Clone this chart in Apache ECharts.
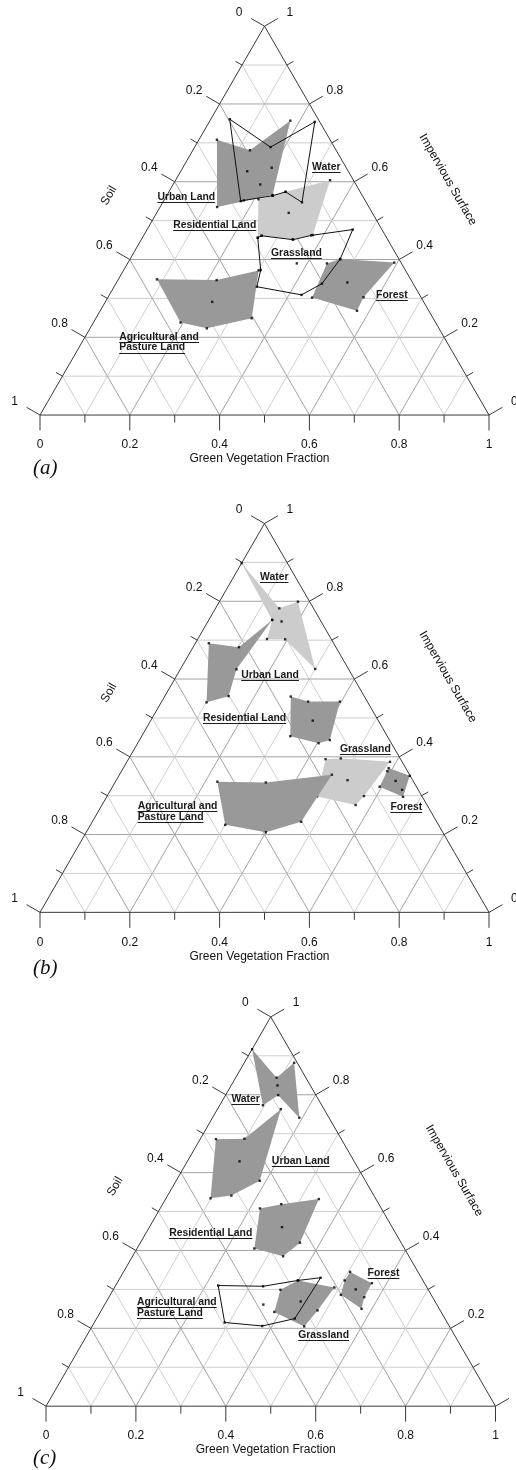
<!DOCTYPE html>
<html>
<head>
<meta charset="utf-8">
<script src="https://cdn.jsdelivr.net/npm/echarts@6/dist/echarts.min.js"></script>
<style>
  html, body { margin: 0; padding: 0; background: #ffffff; }
  #chart { width: 516px; height: 1470px; }
</style>
</head>
<body>
<div id="chart"></div>
<script>
// Ternary compositions are stored as [green vegetation, impervious surface];
// soil is the remainder (1 - gv - imp).

// ---- (a) ----
const aWater = [[0.042,0.761],[0.169,0.689],[0.235,0.754],[0.310,0.547],[0.260,0.574],[0.236,0.564],[0.178,0.552],[0.172,0.550]];
const aWaterInner = [[0.198,0.636]];
const aUrban = [[0.040,0.708],[0.127,0.681],[0.179,0.757],[0.235,0.566],[0.127,0.535]];
const aUrbanInner = [[0.148,0.627],[0.194,0.593]];
const aResidential = [[0.209,0.555],[0.236,0.564],[0.260,0.574],[0.344,0.604],[0.376,0.463],[0.337,0.452],[0.263,0.461],[0.257,0.456]];
const aResidentialInner = [[0.294,0.520]];
const aGrassland = [[0.257,0.456],[0.263,0.461],[0.338,0.451],[0.373,0.462],[0.458,0.477],[0.468,0.401],[0.459,0.338],[0.428,0.309],[0.318,0.330],[0.305,0.373]];
const aGrasslandInner = [[0.377,0.390]];
const aForest = [[0.444,0.390],[0.468,0.401],[0.593,0.392],[0.569,0.303],[0.572,0.268],[0.455,0.302]];
const aForestInner = [[0.514,0.341]];
const aAgri = [[0.086,0.349],[0.220,0.347],[0.301,0.372],[0.347,0.249],[0.260,0.223],[0.194,0.238]];
const aAgriInner = [[0.238,0.291]];

// ---- (b) ----
const bWater = [[0.000,0.898],[0.142,0.782],[0.175,0.799],[0.300,0.626],[0.195,0.702],[0.154,0.703],[0.141,0.752]];
const bWaterInner = [[0.164,0.748]];
const bUrban = [[0.030,0.692],[0.102,0.682],[0.141,0.752],[0.125,0.625],[0.142,0.556],[0.101,0.540]];
const bUrbanInner = [];
const bResidential = [[0.281,0.555],[0.326,0.542],[0.397,0.542],[0.424,0.443],[0.403,0.435],[0.331,0.453]];
const bResidentialInner = [[0.361,0.493]];
const bGrassland = [[0.439,0.394],[0.472,0.396],[0.586,0.387],[0.572,0.299],[0.565,0.276],[0.468,0.298]];
const bGrasslandInner = [[0.515,0.340]];
const bForest = [[0.591,0.371],[0.648,0.351],[0.660,0.297],[0.595,0.323]];
const bForestInner = [[0.592,0.363],[0.649,0.315],[0.623,0.338]];
const bAgri = [[0.227,0.336],[0.336,0.334],[0.473,0.354],[0.465,0.233],[0.400,0.206],[0.300,0.225]];
const bAgriInner = [];

// ---- (c) ----
const cWater = [[0.000,0.917],[0.091,0.844],[0.111,0.882],[0.193,0.741],[0.117,0.799],[0.096,0.773]];
const cWaterInner = [[0.103,0.824]];
const cUrban = [[0.035,0.686],[0.098,0.687],[0.141,0.763],[0.186,0.579],[0.142,0.541],[0.099,0.534]];
const cUrbanInner = [[0.116,0.629]];
const cResidential = [[0.222,0.508],[0.264,0.519],[0.341,0.532],[0.355,0.420],[0.335,0.385],[0.261,0.405]];
const cResidentialInner = [[0.295,0.460]];
const cGrassland = [[0.372,0.299],[0.399,0.323],[0.489,0.305],[0.481,0.246],[0.472,0.205],[0.387,0.242]];
const cGrasslandInner = [[0.432,0.269]];
const cForest = [[0.504,0.345],[0.567,0.316],[0.568,0.280],[0.577,0.250],[0.513,0.286],[0.503,0.323]];
const cForestInner = [[0.539,0.300]];
const cAgri = [[0.228,0.310],[0.329,0.308],[0.399,0.323],[0.446,0.330],[0.441,0.225],[0.378,0.206],[0.290,0.215]];
const cAgriInner = [[0.353,0.261]];

// Axis ticks (every 0.1) and labelled values (every 0.2)
const fractionTicks = [0,0.1,0.2,0.3,0.4,0.5,0.6,0.7,0.8,0.9,1];
const tickLabels = ['0','0.2','0.4','0.6','0.8','1'];

const SQ3 = Math.sqrt(3) / 2;
const toXY = p => [p[0] + p[1] / 2, p[1] * SQ3];

const DARK = '#999999';
const LIGHT = '#cccccc';
const INK = '#111111';
const SANS = '"Liberation Sans", Arial, Helvetica, sans-serif';
const TICK_FONT = '12px ' + SANS;
const LABEL_FONT = 'bold 10.4px ' + SANS;
const LETTER_FONT = 'italic 21px "Liberation Serif", "Times New Roman", serif';

const measureCtx = document.createElement('canvas').getContext('2d');
function textWidth(t, font) { measureCtx.font = font; return measureCtx.measureText(t).width; }

const panels = [
  {
    letter: '(a)', left: 40, top: 26.2, width: 449, letterY: 468,
    classes: [
      { name: 'Residential Land', pts: aResidential, inner: aResidentialInner, kind: 'light', label: [0.052, 0.489] },
      { name: 'Urban Land', pts: aUrban, inner: aUrbanInner, kind: 'dark', label: [-0.019, 0.561] },
      { name: 'Forest', pts: aForest, inner: aForestInner, kind: 'dark', label: [0.594, 0.309] },
      { name: 'Agricultural and\nPasture Land', pts: aAgri, inner: aAgriInner, kind: 'dark', label: [0.076, 0.201] },
      { name: 'Water', pts: aWater, inner: aWaterInner, kind: 'outline', label: [0.287, 0.638] },
      { name: 'Grassland', pts: aGrassland, inner: aGrasslandInner, kind: 'outline', label: [0.306, 0.417] }
    ]
  },
  {
    letter: '(b)', left: 40, top: 523.5, width: 449, letterY: 968,
    classes: [
      { name: 'Water', pts: bWater, inner: bWaterInner, kind: 'light', label: [0.059, 0.862] },
      { name: 'Grassland', pts: bGrassland, inner: bGrasslandInner, kind: 'light', label: [0.458, 0.420] },
      { name: 'Urban Land', pts: bUrban, inner: bUrbanInner, kind: 'dark', label: [0.143, 0.610] },
      { name: 'Residential Land', pts: bResidential, inner: bResidentialInner, kind: 'dark', label: [0.113, 0.500] },
      { name: 'Forest', pts: bForest, inner: bForestInner, kind: 'dark', label: [0.645, 0.271] },
      { name: 'Agricultural and\nPasture Land', pts: bAgri, inner: bAgriInner, kind: 'dark', label: [0.081, 0.273] }
    ]
  },
  {
    letter: '(c)', left: 46, top: 1016.9, width: 449.5, letterY: 1458,
    classes: [
      { name: 'Water', pts: cWater, inner: cWaterInner, kind: 'dark', label: [0.018, 0.789] },
      { name: 'Urban Land', pts: cUrban, inner: cUrbanInner, kind: 'dark', label: [0.188, 0.629] },
      { name: 'Residential Land', pts: cResidential, inner: cResidentialInner, kind: 'dark', label: [0.052, 0.444] },
      { name: 'Grassland', pts: cGrassland, inner: cGrasslandInner, kind: 'dark', label: [0.470, 0.182] },
      { name: 'Forest', pts: cForest, inner: cForestInner, kind: 'dark', label: [0.545, 0.341] },
      { name: 'Agricultural and\nPasture Land', pts: cAgri, inner: cAgriInner, kind: 'outline', label: [0.069, 0.267] }
    ]
  }
];

// Triangle frame, 0.1 grid, ticks, tick labels and axis titles
function frameSeries(i, pn) {
  return {
    type: 'custom', xAxisIndex: i, yAxisIndex: i, z: 1, silent: true, clip: false,
    data: [[0, 0]],
    renderItem(params, api) {
      const P = (gv, imp) => api.coord(toXY([gv, imp]));
      const kids = [];
      const seg = (a, b, stroke) => kids.push({
        type: 'line', shape: { x1: a[0], y1: a[1], x2: b[0], y2: b[1] },
        style: { stroke, lineWidth: 1 }
      });
      const text = (x, y, str, extra) => kids.push(Object.assign({
        type: 'text', x, y,
        style: { text: str, font: TICK_FONT, fill: INK, align: 'center', verticalAlign: 'middle' }
      }, extra || {}));

      // grid lines
      fractionTicks.forEach((t, k) => {
        if (k === 0 || k === fractionTicks.length - 1) return;
        const col = k % 2 === 0 ? '#a3a3a3' : '#cfcfcf';
        seg(P(0, t), P(1 - t, t), col);        // constant impervious
        seg(P(t, 0), P(t, 1 - t), col);        // constant vegetation
        seg(P(1 - t, 0), P(0, 1 - t), col);    // constant soil
      });

      // frame
      const A = P(0, 0), B = P(1, 0), C = P(0, 1);
      kids.push({
        type: 'polygon', shape: { points: [A, B, C] },
        style: { fill: 'none', stroke: '#3a3a3a', lineWidth: 1 }
      });

      const cx = 0.866, cy = 0.5;
      fractionTicks.forEach((t, k) => {
        const major = k % 2 === 0;
        const len = major ? 15.5 : 7.5;
        const lab = major ? tickLabels[k / 2] : null;
        // bottom: green vegetation
        const pb = P(t, 0);
        seg(pb, [pb[0], pb[1] + len], '#3a3a3a');
        if (lab) text(pb[0], pb[1] + 30, lab);
        // left: soil (0 at apex)
        const pl = P(0, 1 - t);
        const el = [pl[0] - cx * len, pl[1] - cy * len];
        seg(pl, el, '#3a3a3a');
        if (lab) text(el[0] - 12, el[1] - 6, lab);
        // right: impervious surface (0 at bottom-right)
        const pr = P(1 - t, t);
        const er = [pr[0] + cx * len, pr[1] - cy * len];
        seg(pr, er, '#3a3a3a');
        if (lab) text(er[0] + 12, er[1] - 6, lab);
      });

      // axis titles
      const pBottom = P(0.5, 0);
      text(pBottom[0] - 5, pBottom[1] + 44, 'Green Vegetation Fraction');
      const mL = P(0, 0.5);
      text(mL[0] - cx * 50, mL[1] - cy * 50, 'Soil', { rotation: Math.PI / 3 });
      const mR = P(0.5, 0.5);
      text(mR[0] + cx * 82, mR[1] - cy * 82, 'Impervious Surface', { rotation: -Math.PI / 3 });

      // panel letter
      kids.push({
        type: 'text', x: 33, y: pn.letterY,
        style: { text: pn.letter, font: LETTER_FONT, fill: INK, align: 'left', verticalAlign: 'middle' }
      });
      return { type: 'group', children: kids };
    }
  };
}

// Underlined class names
function labelSeries(i, pn) {
  return {
    type: 'custom', xAxisIndex: i, yAxisIndex: i, z: 20, silent: true, clip: false,
    data: [[0.5, 0.3]],
    renderItem(params, api) {
      const kids = [];
      pn.classes.forEach(c => {
        const at = api.coord(toXY(c.label));
        c.name.split('\n').forEach((line, k) => {
          const y = at[1] + k * 10.7;
          const w = textWidth(line, LABEL_FONT);
          kids.push({
            type: 'text', x: at[0], y,
            style: { text: line, font: LABEL_FONT, fill: '#1a1a1a', align: 'left', verticalAlign: 'middle' }
          });
          const uy = Math.round(y + 5) + 0.5;
          kids.push({
            type: 'line', shape: { x1: at[0], y1: uy, x2: at[0] + w, y2: uy },
            style: { stroke: '#1a1a1a', lineWidth: 1 }
          });
        });
      });
      return { type: 'group', children: kids };
    }
  };
}

const series = [];
panels.forEach((pn, i) => {
  series.push(frameSeries(i, pn));
  pn.classes.forEach(c => {
    const zBase = c.kind === 'light' ? 2 : (c.kind === 'dark' ? 4 : 6);
    series.push({
      type: 'custom', name: c.name, xAxisIndex: i, yAxisIndex: i, z: zBase, silent: true, clip: false,
      data: c.pts.map(toXY),
      renderItem(params, api) {
        if (params.dataIndex !== 0) return null;
        const points = c.pts.map(p => api.coord(toXY(p)));
        return {
          type: 'polygon', shape: { points },
          style: c.kind === 'outline'
            ? { fill: 'none', stroke: INK, lineWidth: 1 }
            : { fill: c.kind === 'dark' ? DARK : LIGHT }
        };
      }
    });
    series.push({
      type: 'scatter', xAxisIndex: i, yAxisIndex: i, z: zBase + 1, silent: true,
      symbol: 'rect', symbolSize: 2.4, itemStyle: { color: '#000000' },
      data: c.pts.concat(c.inner).map(toXY)
    });
  });
  series.push(labelSeries(i, pn));
});

const chart = echarts.init(document.getElementById('chart'), null, { renderer: 'canvas' });
chart.setOption({
  animation: false,
  backgroundColor: '#ffffff',
  grid: panels.map(pn => ({ left: pn.left, top: pn.top, width: pn.width, height: pn.width * SQ3 })),
  xAxis: panels.map((pn, i) => ({ type: 'value', gridIndex: i, min: 0, max: 1, show: false })),
  yAxis: panels.map((pn, i) => ({ type: 'value', gridIndex: i, min: 0, max: SQ3, show: false })),
  series
});
</script>
</body>
</html>
